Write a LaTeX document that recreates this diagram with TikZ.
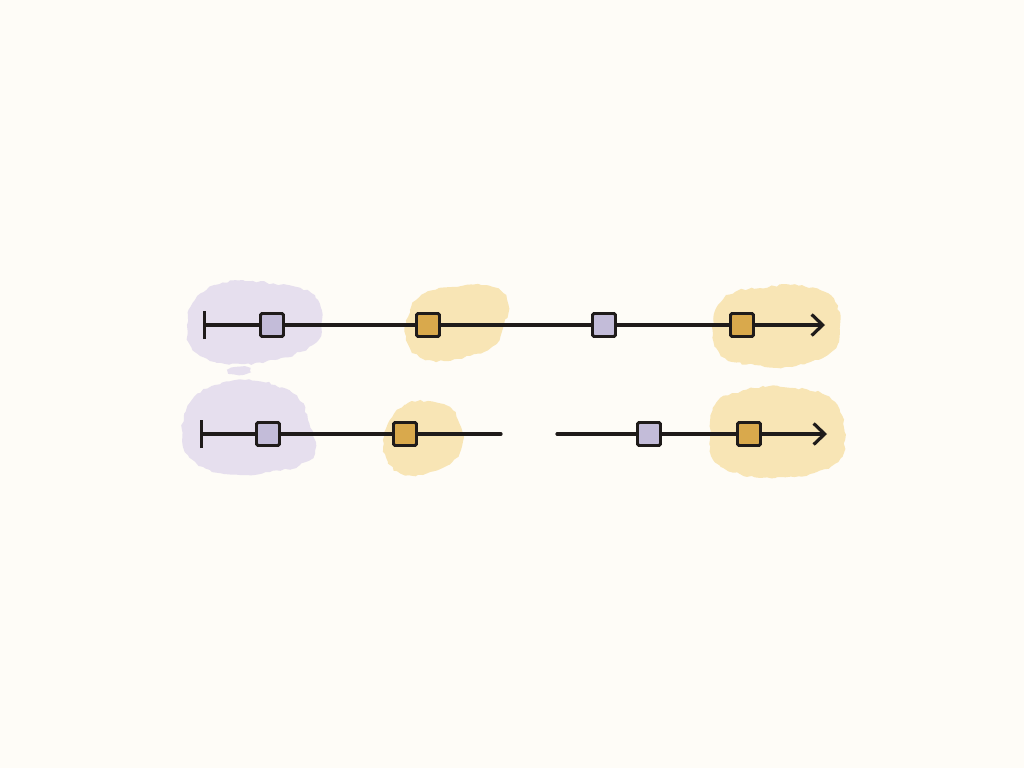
\documentclass[tikz,border=0pt]{standalone}
\usetikzlibrary{arrows.meta,decorations.pathmorphing}
\definecolor{bg}{HTML}{FEFCF7}
\definecolor{ink}{HTML}{1F1B1A}
\definecolor{lavfill}{HTML}{C3BCD9}
\definecolor{lavblob}{HTML}{E6DFEE}
\definecolor{goldfill}{HTML}{D9A94C}
\definecolor{goldblob}{HTML}{F8E5B5}
\tikzset{
  sq/.style={draw=ink, line width=2.9pt, minimum size=23pt, inner sep=0pt, rounded corners=1.5pt},
  lav/.style={sq, fill=lavfill},
  gold/.style={sq, fill=goldfill},
  wire/.style={draw=ink, line width=3.2pt, line cap=round},
  fuzzy/.style={decorate, decoration={random steps, segment length=4pt, amplitude=1.2pt}},
  blobL/.style={fill=lavblob, draw=none, fuzzy},
  blobG/.style={fill=goldblob, draw=none, fuzzy},
  startbar/.style={wire, {Bar[width=28pt,line width=3.2pt]}-},
  endarrow/.style={wire, -{Straight Barb[length=11pt,width=21pt,line width=3.2pt]}}
}
\begin{document}
\begin{tikzpicture}[x=1pt,y=-1pt]
\pgfmathsetseed{42}
\fill[bg] (0,0) rectangle (1024,768);
\useasboundingbox (0,0) rectangle (1024,768);
% blobs
\fill[blobL] plot[smooth cycle, tension=0.7] coordinates {(195,300) (215,285) (245,281) (275,284) (300,288) (318,300) (322,320) (318,340) (300,352) (275,360) (245,364) (215,362) (193,350) (187,325)};
\fill[blobL] (239,371) ellipse (11pt and 4pt);
\fill[blobG] plot[smooth cycle, tension=0.7] coordinates {(410,310) (425,293) (450,287) (478,284) (500,290) (508,305) (504,325) (495,345) (470,356) (445,361) (420,357) (406,340)};
\fill[blobG] plot[smooth cycle, tension=0.7] coordinates {(718,305) (735,292) (760,288) (790,285) (820,290) (835,302) (840,325) (836,348) (815,360) (785,367) (755,365) (725,358) (713,335)};
\fill[blobL] plot[smooth cycle, tension=0.7] coordinates {(192,400) (215,385) (245,380) (275,385) (298,398) (308,420) (315,450) (300,465) (270,472) (240,475) (210,470) (188,455) (182,430)};
\fill[blobG] plot[smooth cycle, tension=0.7] coordinates {(390,420) (405,405) (428,401) (450,407) (460,425) (462,445) (452,462) (430,472) (405,475) (388,462) (383,440)};
\fill[blobG] plot[smooth cycle, tension=0.7] coordinates {(715,405) (735,393) (765,387) (795,388) (825,395) (840,412) (845,440) (838,462) (810,474) (775,478) (740,474) (715,462) (710,435)};
% row 1
\coordinate (a0) at (203,325);
\node[lav]  (s11) at (272,325) {};
\node[gold] (s12) at (428,325) {};
\node[lav]  (s13) at (604,325) {};
\node[gold] (s14) at (742,325) {};
\coordinate (e1) at (825,325);
\draw[startbar] (a0) -- (s11);
\draw[wire] (s11) -- (s12);
\draw[wire] (s12) -- (s13);
\draw[wire] (s13) -- (s14);
\draw[endarrow] (s14) -- (e1);
% row 2
\coordinate (a1) at (200,434);
\node[lav]  (s21) at (268,434) {};
\node[gold] (s22) at (405,434) {};
\coordinate (g1) at (501,434);
\coordinate (g2) at (557,434);
\node[lav]  (s23) at (649,434) {};
\node[gold] (s24) at (749,434) {};
\coordinate (e2) at (827,434);
\draw[startbar] (a1) -- (s21);
\draw[wire] (s21) -- (s22);
\draw[wire] (s22) -- (g1);
\draw[wire] (g2) -- (s23);
\draw[wire] (s23) -- (s24);
\draw[endarrow] (s24) -- (e2);
\end{tikzpicture}
\end{document}
